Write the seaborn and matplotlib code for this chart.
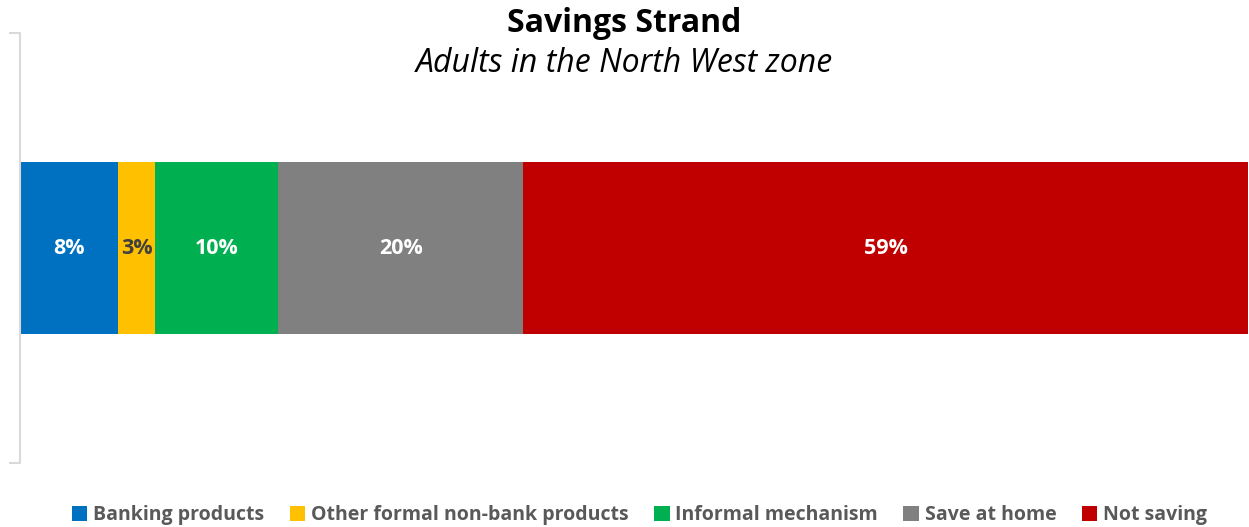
import matplotlib
matplotlib.use("Agg")
import matplotlib.pyplot as plt
import seaborn as sns
import numpy as np
import pandas as pd

categories = ["Banking products", "Other formal non-bank products",
              "Informal mechanism", "Save at home", "Not saving"]
values = [8, 3, 10, 20, 59]
colors = ["#0070C0", "#FFC000", "#00B050", "#808080", "#C00000"]
label_colors = ["white", "#404040", "white", "white", "white"]

sns.set_theme(style="white")
plt.rcParams["font.family"] = ["Open Sans", "DejaVu Sans"]

fig = plt.figure(figsize=(12.49, 5.27), dpi=100)
ax = fig.add_axes([20 / 1249, 1 - 463 / 527, 1228 / 1249, 430 / 527])

cum = np.cumsum(values)
# stack by drawing cumulative totals from the largest down
for i in range(len(values) - 1, -1, -1):
    df = pd.DataFrame({"seg": [""], "total": [cum[i]]})
    sns.barplot(data=df, x="total", y="seg", orient="h", color=colors[i],
                width=0.4, saturation=1, linewidth=0, ax=ax,
                label=categories[i])

starts = cum - np.array(values)
for v, s, c in zip(values, starts, label_colors):
    ax.text(s + v / 2, 0.0, f"{v}%", ha="center", va="center",
            color=c, fontsize=15.5, fontweight="bold")

ax.set_xlim(0, 100)
ax.set_ylim(0.5, -0.5)
ax.set_xlabel("")
ax.set_ylabel("")
ax.set_xticks([])
ax.set_yticks([-0.5, 0.5])
ax.set_yticklabels([])
ax.tick_params(axis="y", left=True, length=8, width=1.5, color="#D9D9D9")
for side in ["top", "right", "bottom"]:
    ax.spines[side].set_visible(False)
ax.spines["left"].set_color("#D9D9D9")
ax.spines["left"].set_linewidth(1.5)

fig.text(0.5, 1 - 24 / 527, "Savings Strand", ha="center", va="center",
         fontsize=23, fontweight="bold", color="black")
fig.text(0.5, 1 - 63 / 527, "Adults in the North West zone", ha="center",
         va="center", fontsize=23, fontstyle="italic", color="black")

handles, labels = ax.get_legend_handles_labels()
order = [labels.index(c) for c in categories]
leg = fig.legend([handles[i] for i in order], [labels[i] for i in order],
                 loc="center", bbox_to_anchor=(0.5 + 15 / 1249, 1 - 515 / 527),
                 ncol=5, frameon=False, handlelength=0.8, handleheight=0.8,
                 handletextpad=0.3, columnspacing=1.3,
                 prop={"size": 14, "weight": "bold"})
for t in leg.get_texts():
    t.set_color("#595959")
if ax.get_legend() is not None:
    ax.get_legend().remove()

fig.savefig("out.png", dpi=100)
